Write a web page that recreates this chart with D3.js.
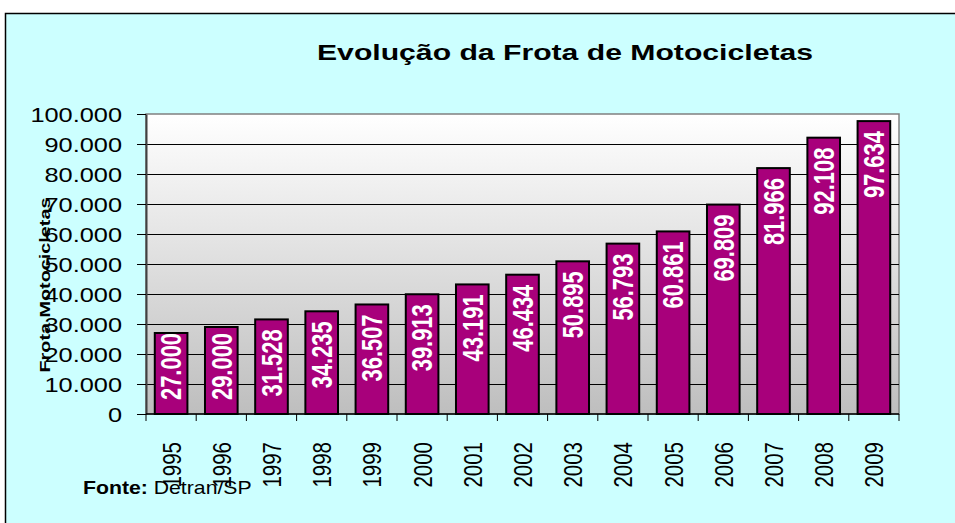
<!DOCTYPE html>
<html>
<head>
<meta charset="utf-8">
<script src="https://cdn.jsdelivr.net/npm/d3@7"></script>
<style>
  body { margin: 0; background: #fff; }
  text { font-family: "Liberation Sans", Arial, sans-serif; }
</style>
</head>
<body>
<svg width="955" height="523"></svg>
<script>
var years = ["1995", "1996", "1997", "1998", "1999", "2000", "2001", "2002",
             "2003", "2004", "2005", "2006", "2007", "2008", "2009"];
var frota = [27000, 29000, 31528, 34235, 36507, 39913, 43191, 46434,
             50895, 56793, 60861, 69809, 81966, 92108, 97634];
var yTicks = [0, 10000, 20000, 30000, 40000, 50000, 60000, 70000, 80000, 90000, 100000];
var title = "Evolução da Frota de Motocicletas";
var yLabel = "Frota Motocicletas";

var svg = d3.select("svg"),
    margin = {top: 114, left: 146, right: 56, bottom: 109},
    width = 955 - margin.left - margin.right,
    height = 523 - margin.top - margin.bottom,
    stretch = 1.3;

var pt = d3.formatLocale({decimal: ",", thousands: ".", grouping: [3], currency: ["R$", ""]});
var fmt = pt.format(",d");

// fundo do grafico
svg.append("rect")
    .attr("x", 5.5).attr("y", 13.5)
    .attr("width", 960).attr("height", 520)
    .attr("fill", "#ccffff").attr("stroke", "#000").attr("stroke-width", 1.5);

var defs = svg.append("defs");
var grad = defs.append("linearGradient").attr("id", "plotGrad")
    .attr("x1", 0).attr("y1", 0).attr("x2", 0).attr("y2", 1);
grad.append("stop").attr("offset", "0%").attr("stop-color", "#ffffff");
grad.append("stop").attr("offset", "100%").attr("stop-color", "#bebebe");

var x = d3.scaleBand().domain(years).range([0, width]).paddingInner(0.35).paddingOuter(0.175);
var y = d3.scaleLinear().domain([0, 100000]).range([height, 0]);

var g = svg.append("g").attr("transform", "translate(" + margin.left + "," + margin.top + ")");

g.append("rect")
    .attr("width", width).attr("height", height)
    .attr("fill", "url(#plotGrad)")
    .attr("stroke", "#808080").attr("stroke-width", 1.5);

// grade
g.selectAll(".grid")
    .data(yTicks.filter(function (d) { return d > 0 && d < 100000; }))
    .enter().append("line")
    .attr("class", "grid")
    .attr("x1", 0).attr("x2", width)
    .attr("y1", function (d) { return Math.round(y(d)) + 0.5; })
    .attr("y2", function (d) { return Math.round(y(d)) + 0.5; })
    .attr("stroke", "#000").attr("stroke-width", 1);

// barras
g.selectAll(".bar")
    .data(frota)
    .enter().append("rect")
    .attr("class", "bar")
    .attr("x", function (d, i) { return x(years[i]); })
    .attr("y", function (d) { return y(d); })
    .attr("width", x.bandwidth())
    .attr("height", function (d) { return y(0) - y(d); })
    .attr("fill", "#a8007b")
    .attr("stroke", "#000").attr("stroke-width", 2);

// rotulos das barras
var labelLen = 67;
g.selectAll(".val")
    .data(frota)
    .enter().append("text")
    .attr("class", "val")
    .attr("transform", function (d, i) {
        var cx = x(years[i]) + x.bandwidth() / 2;
        var yb = Math.min(y(d) + 10 + labelLen, y(0) - 14);
        return "translate(" + cx + "," + yb + ") scale(" + stretch + ",1) rotate(-90)";
    })
    .attr("dy", "0.36em")
    .attr("fill", "#fff")
    .attr("font-size", 22)
    .attr("font-weight", "bold")
    .attr("textLength", labelLen).attr("lengthAdjust", "spacingAndGlyphs")
    .text(function (d) { return fmt(d); });

// eixo y
var yAxis = g.append("g")
    .call(d3.axisLeft(y).tickValues(yTicks).tickSize(9).tickSizeOuter(0).tickFormat(fmt));
yAxis.select(".domain").attr("stroke", "#404040").attr("stroke-width", 2);
yAxis.selectAll(".tick line").attr("stroke", "#000");
yAxis.selectAll(".tick text")
    .attr("x", null)
    .attr("dy", "0.36em")
    .attr("transform", "translate(-24,0) scale(" + stretch + ",1)")
    .attr("font-size", 19.5)
    .attr("font-family", "'Liberation Sans', Arial, sans-serif")
    .attr("fill", "#000");

// eixo x
g.append("line")
    .attr("x1", 0).attr("x2", width)
    .attr("y1", height).attr("y2", height)
    .attr("stroke", "#000").attr("stroke-width", 1.5);
g.selectAll(".xtick")
    .data(d3.range(years.length + 1))
    .enter().append("line")
    .attr("class", "xtick")
    .attr("x1", function (i) { return i * x.step(); })
    .attr("x2", function (i) { return i * x.step(); })
    .attr("y1", height).attr("y2", height + 7)
    .attr("stroke", "#000");
g.selectAll(".year")
    .data(years)
    .enter().append("text")
    .attr("class", "year")
    .attr("transform", function (d) {
        return "translate(" + (x(d) + x.bandwidth() / 2) + "," + (height + 28) + ") scale(1.28,1) rotate(-90)";
    })
    .attr("dy", "0.36em")
    .attr("text-anchor", "end")
    .attr("font-size", 20.5)
    .text(function (d) { return d; });

// titulo
svg.append("text")
    .attr("x", 317).attr("y", 60)
    .attr("font-size", 22).attr("font-weight", "bold")
    .attr("textLength", 496).attr("lengthAdjust", "spacingAndGlyphs")
    .text(title);

// titulo eixo y
svg.append("text")
    .attr("transform", "translate(45,285) rotate(-90)")
    .attr("dy", "0.36em")
    .attr("text-anchor", "middle")
    .attr("font-size", 15).attr("font-weight", "bold")
    .attr("textLength", 175).attr("lengthAdjust", "spacingAndGlyphs")
    .text(yLabel);

// fonte
var fonte = svg.append("text")
    .attr("transform", "translate(83,494) scale(1.18,1)")
    .attr("font-size", 18);
fonte.append("tspan").attr("font-weight", "bold").text("Fonte: ");
fonte.append("tspan").text("Detran/SP");
</script>
</body>
</html>
